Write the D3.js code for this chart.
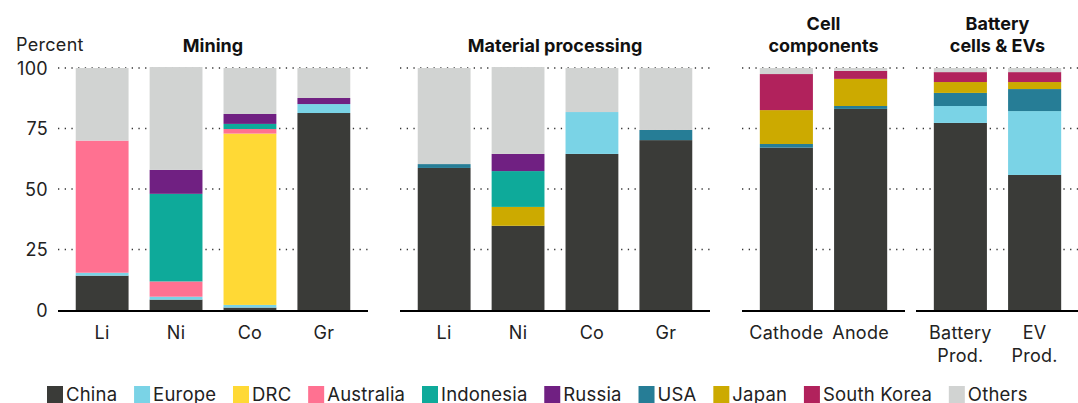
<!DOCTYPE html>
<html>
<head>
<meta charset="utf-8">
<script src="https://cdn.jsdelivr.net/npm/d3@7"></script>
<style>
  body { margin: 0; background: #fff; }
  svg { display: block; font-family: Inter, "Noto Sans", sans-serif; }
  .tick-label { font-size: 18px; fill: #222; letter-spacing: 0.3px; }
  .title { font-size: 18px; font-weight: 700; fill: #111; }
  .legend text { font-size: 18.5px; fill: #222; letter-spacing: 0.2px; }
</style>
</head>
<body>
<svg id="chart"></svg>
<script>
const WIDTH = 1078;
const HEIGHT = 403;

// chart data
const stages = ['Mining', 'Material processing', 'Cell components', 'Battery cells & EVs'];
const stageTitles = [['Mining'], ['Material processing'], ['Cell', 'components'], ['Battery', 'cells & EVs']];
const barLabels = ['Li', 'Ni', 'Co', 'Gr', 'Li', 'Ni', 'Co', 'Gr', 'Cathode', 'Anode', 'Battery Prod.', 'EV Prod.'];
const barStage = [0, 0, 0, 0, 1, 1, 1, 1, 2, 2, 3, 3];
const countries = ['China', 'Europe', 'DRC', 'Australia', 'Indonesia', 'Russia', 'USA', 'Japan', 'South Korea', 'Others'];
const stackOrder = ['China', 'Europe', 'DRC', 'Australia', 'USA', 'Japan', 'Indonesia', 'Russia', 'South Korea', 'Others'];
const yTicks = [0, 25, 50, 75, 100];

const china = [14.2, 4.3, 1.0, 81.4, 58.7, 34.8, 64.5, 70.2, 67.1, 83.1, 77.3, 55.8];
const europe = [1.2, 1.2, 1.1, 3.7, 0, 0, 17.3, 0, 0, 0, 7.0, 26.4];
const drc = [0, 0, 70.8, 0, 0, 0, 0, 0, 0, 0, 0, 0];
const australia = [54.6, 6.3, 1.9, 0, 0, 0, 0, 0, 0, 0, 0, 0];
const indonesia = [0, 36.2, 2.1, 0, 0, 14.8, 0, 0, 0, 0, 0, 0];
const russia = [0, 9.9, 4.1, 2.5, 0, 7.1, 0, 0, 0, 0, 0, 0];
const usa = [0, 0, 0, 0, 1.6, 0, 0, 4.2, 1.5, 1.2, 5.4, 9.1];
const japan = [0, 0, 0, 0, 0, 7.8, 0, 0, 14.0, 11.2, 4.5, 2.9];
const southKorea = [0, 0, 0, 0, 0, 0, 0, 0, 14.9, 3.3, 4.1, 4.1];
const others = [30.0, 42.5, 19.0, 12.4, 39.7, 35.9, 18.2, 25.6, 2.5, 1.2, 1.7, 1.7];

const seriesValues = {
  'China': china, 'Europe': europe, 'DRC': drc, 'Australia': australia,
  'Indonesia': indonesia, 'Russia': russia, 'USA': usa, 'Japan': japan,
  'South Korea': southKorea, 'Others': others,
};

const colors = {
  'China': '#3a3b38', 'Europe': '#7ad3e6', 'DRC': '#ffd935', 'Australia': '#ff7191',
  'Indonesia': '#0eaa9a', 'Russia': '#702082', 'USA': '#267d96', 'Japan': '#ccaa00',
  'South Korea': '#b1225c', 'Others': '#d1d3d2',
};

// panel extents on x
const panelRanges = [[58, 368], [400, 710], [742, 905], [916, 1079]];

const rows = barLabels.map((label, i) => {
  const row = { label: label, stage: barStage[i], idx: i };
  countries.forEach(c => { row[c] = seriesValues[c][i]; });
  return row;
});

const stacked = d3.stack().keys(stackOrder)(rows);

const yScale = d3.scaleLinear()
  .domain([0, 100])
  .range([310, 68]);

const svg = d3.select('#chart')
  .attr('width', WIDTH)
  .attr('height', HEIGHT);

// y tick labels
svg.append('text')
  .attr('class', 'tick-label')
  .attr('x', 16)
  .attr('y', 51)
  .text('Percent');

svg.selectAll('.ylab')
  .data(yTicks)
  .enter()
  .append('text')
  .attr('class', 'tick-label')
  .attr('x', 48)
  .attr('y', d => yScale(d) + 6.5)
  .attr('text-anchor', 'end')
  .text(d => d);

stages.forEach((stage, s) => {
  const [x0, x1] = panelRanges[s];
  const panelRows = rows.filter(r => r.stage === s);
  const xScale = d3.scaleBand()
    .domain(panelRows.map(r => r.idx))
    .range([x0, x1])
    .paddingInner(0.285)
    .paddingOuter(0.24);

  const g = svg.append('g');

  // dotted gridlines
  g.selectAll('.grid')
    .data(yTicks.filter(t => t > 0))
    .enter()
    .append('line')
    .attr('x1', x0)
    .attr('x2', x1)
    .attr('y1', d => yScale(d))
    .attr('y2', d => yScale(d))
    .attr('stroke', '#333')
    .attr('stroke-width', 1.3)
    .attr('stroke-dasharray', '1.3,5.4');

  // stacked bars
  stacked.forEach(layer => {
    g.selectAll(null)
      .data(layer.filter(d => d.data.stage === s && d[1] - d[0] > 0))
      .enter()
      .append('rect')
      .attr('x', d => xScale(d.data.idx))
      .attr('width', xScale.bandwidth())
      .attr('y', d => yScale(d[1]))
      .attr('height', d => yScale(d[0]) - yScale(d[1]))
      .attr('fill', colors[layer.key]);
  });

  // baseline
  g.append('line')
    .attr('x1', x0)
    .attr('x2', x1)
    .attr('y1', yScale(0) + 1)
    .attr('y2', yScale(0) + 1)
    .attr('stroke', '#000')
    .attr('stroke-width', 2.2);

  // category labels
  panelRows.forEach(r => {
    const lines = r.label.split(' ');
    const cx = xScale(r.idx) + xScale.bandwidth() / 2;
    const t = g.append('text')
      .attr('class', 'tick-label')
      .attr('text-anchor', 'middle')
      .attr('y', 339);
    lines.forEach((ln, k) => {
      t.append('tspan')
        .attr('x', cx)
        .attr('dy', k === 0 ? 0 : 23)
        .text(ln);
    });
  });

  // stage title
  const titleLines = stageTitles[s];
  const tt = g.append('text')
    .attr('class', 'title')
    .attr('text-anchor', 'middle')
    .attr('y', titleLines.length === 1 ? 52 : 30);
  titleLines.forEach((ln, k) => {
    tt.append('tspan')
      .attr('x', (x0 + x1) / 2)
      .attr('dy', k === 0 ? 0 : 22)
      .text(ln);
  });
});

// legend
const legend = svg.append('g').attr('class', 'legend');
let lx = 47;
countries.forEach(c => {
  const item = legend.append('g').attr('transform', `translate(${lx}, 386)`);
  item.append('rect')
    .attr('width', 16)
    .attr('height', 17)
    .attr('fill', colors[c]);
  const txt = item.append('text')
    .attr('x', 19)
    .attr('y', 15)
    .text(c);
  lx += 19 + txt.node().getComputedTextLength() + 16.8;
});
</script>
</body>
</html>
